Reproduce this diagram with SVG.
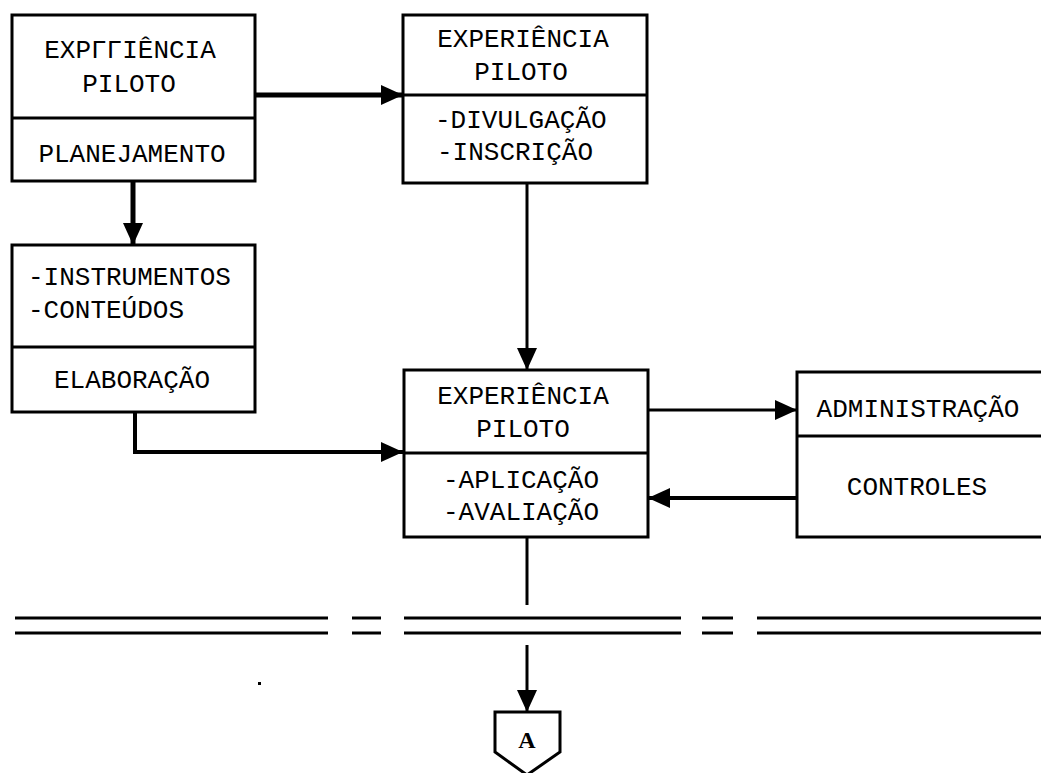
<svg xmlns="http://www.w3.org/2000/svg" width="1041" height="773" viewBox="0 0 1041 773">
<style>
.box{fill:#fff;stroke:#000;stroke-width:3}
.div{stroke:#000;stroke-width:3}
.t{font-family:"Liberation Mono","Courier New",monospace;font-size:26px;fill:#000}
.c{text-anchor:middle}
.ln{fill:none;stroke:#000;stroke-linejoin:miter}
.dl{stroke:#000;stroke-width:3}
</style>
<defs>
<marker id="ah" markerUnits="userSpaceOnUse" markerWidth="24" markerHeight="22" refX="22" refY="10" orient="auto">
<path d="M0,0 L22,10 L0,20 Z" fill="#000"/>
</marker>
</defs>
<rect width="1041" height="773" fill="#fff"/>
<g id="connectors">
<line class="ln" x1="255" y1="95" x2="403" y2="95" stroke-width="5" marker-end="url(#ah)"/>
<line class="ln" x1="133" y1="181" x2="133" y2="245" stroke-width="5" marker-end="url(#ah)"/>
<line class="ln" x1="527" y1="183" x2="527" y2="370" stroke-width="3" marker-end="url(#ah)"/>
<path class="ln" d="M135,412 V452 H403" stroke-width="4" marker-end="url(#ah)"/>
<line class="ln" x1="648" y1="410" x2="797" y2="410" stroke-width="3" marker-end="url(#ah)"/>
<line class="ln" x1="797" y1="498" x2="648" y2="498" stroke-width="4" marker-end="url(#ah)"/>
<line class="ln" x1="527" y1="537" x2="527" y2="605" stroke-width="3"/>
<line class="ln" x1="527" y1="645" x2="527" y2="712" stroke-width="3" marker-end="url(#ah)"/>
</g>
<g id="separator">
<line class="dl" x1="15" y1="618" x2="328" y2="618"/>
<line class="dl" x1="15" y1="633" x2="328" y2="633"/>
<line class="dl" x1="352" y1="618" x2="381" y2="618"/>
<line class="dl" x1="352" y1="633" x2="381" y2="633"/>
<line class="dl" x1="404" y1="618" x2="681" y2="618"/>
<line class="dl" x1="404" y1="633" x2="681" y2="633"/>
<line class="dl" x1="702" y1="618" x2="733" y2="618"/>
<line class="dl" x1="702" y1="633" x2="733" y2="633"/>
<line class="dl" x1="757" y1="618" x2="1041" y2="618"/>
<line class="dl" x1="757" y1="633" x2="1041" y2="633"/>
<rect x="258" y="682" width="3" height="3" fill="#000"/>
</g>
<g id="box1">
<rect class="box" x="12" y="15" width="243" height="166"/>
<line class="div" x1="12" y1="118" x2="255" y2="118"/>
<text class="t c" x="130" y="58">EXPΓΓIÊNCIA</text>
<text class="t c" x="129" y="92">PILOTO</text>
<text class="t c" x="132" y="162">PLANEJAMENTO</text>
</g>
<g id="box2">
<rect class="box" x="403" y="15" width="244" height="168"/>
<line class="div" x1="403" y1="95" x2="647" y2="95"/>
<text class="t c" x="523" y="47">EXPERIÊNCIA</text>
<text class="t c" x="521" y="80">PILOTO</text>
<text class="t" x="435" y="128">-DIVULGAÇÃO</text>
<text class="t" x="437" y="160">-INSCRIÇÃO</text>
</g>
<g id="box3">
<rect class="box" x="12" y="245" width="243" height="167"/>
<line class="div" x1="12" y1="347" x2="255" y2="347"/>
<text class="t" x="28" y="285">-INSTRUMENTOS</text>
<text class="t" x="28" y="318">-CONTEÚDOS</text>
<text class="t c" x="132" y="388">ELABORAÇÃO</text>
</g>
<g id="box4">
<rect class="box" x="404" y="370" width="244" height="167"/>
<line class="div" x1="404" y1="453" x2="648" y2="453"/>
<text class="t c" x="523" y="404">EXPERIÊNCIA</text>
<text class="t c" x="523" y="437">PILOTO</text>
<text class="t" x="443" y="488">-APLICAÇÃO</text>
<text class="t" x="443" y="520">-AVALIAÇÃO</text>
</g>
<g id="box5">
<rect class="box" x="797" y="372" width="250" height="165"/>
<line class="div" x1="797" y1="436" x2="1041" y2="436"/>
<text class="t c" x="918" y="417">ADMINISTRAÇÃO</text>
<text class="t c" x="917" y="495">CONTROLES</text>
</g>
<g id="connectorA">
<path d="M495,712 H560 V752 L527,775 L495,752 Z" fill="#fff" stroke="#000" stroke-width="3"/>
<text x="527" y="748" text-anchor="middle" font-family="Liberation Serif, serif" font-weight="bold" font-size="24">A</text>
</g>
</svg>
